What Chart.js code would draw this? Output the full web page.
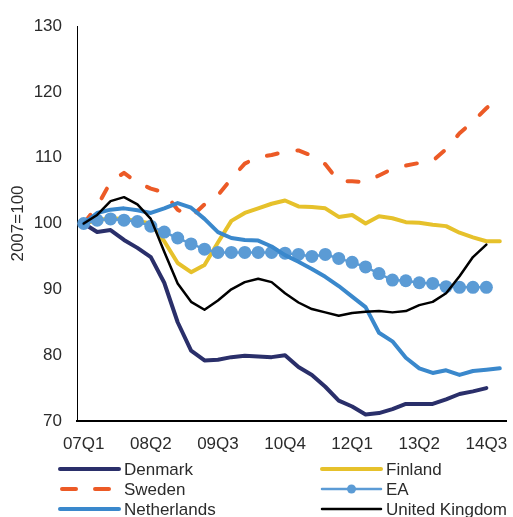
<!DOCTYPE html>
<html>
<head>
<meta charset="utf-8">
<script src="https://cdn.jsdelivr.net/npm/chart.js@4.4.1/dist/chart.umd.min.js"></script>
<style>
  html, body { margin: 0; padding: 0; background: #ffffff; }
  #wrap { width: 513px; height: 517px; position: relative; }
</style>
</head>
<body>
<div id="wrap"><canvas id="c" width="513" height="517"></canvas></div>
<script>
const quarters = ['07Q1','07Q2','07Q3','07Q4','08Q1','08Q2','08Q3','08Q4',
  '09Q1','09Q2','09Q3','09Q4','10Q1','10Q2','10Q3','10Q4',
  '11Q1','11Q2','11Q3','11Q4','12Q1','12Q2','12Q3','12Q4',
  '13Q1','13Q2','13Q3','13Q4','14Q1','14Q2','14Q3','14Q4'];
const shownTicks = ['07Q1','08Q2','09Q3','10Q4','12Q1','13Q2','14Q3'];
const yTicks = [70, 80, 90, 100, 110, 120, 130];

const denmark = [100, 98.7, 99.0, 97.5, 96.3, 94.9, 91.0, 85.0, 80.7, 79.2, 79.3, 79.7, 79.9, 79.8, 79.7, 80.0,
  78.2, 77.0, 75.2, 73.1, 72.2, 71.0, 71.2, 71.8, 72.6, 72.6, 72.6, 73.3, 74.1, 74.5, 75.0];
const finland = [100, 100.5, 100.8, 100.7, 100.4, 100.0, 97.3, 94.0, 92.6, 93.7, 97.1, 100.4, 101.6, 102.3, 103.0, 103.5,
  102.6, 102.5, 102.3, 101.0, 101.3, 100.0, 101.1, 100.8, 100.2, 100.1, 99.8, 99.6, 98.6, 97.9, 97.3, 97.3];
const sweden = [100, 102.6, 106.3, 107.7, 106.2, 105.3, 104.7, 102.1, 101.0, 102.9, 104.3, 106.8, 109.1, 110.1, 110.4, 110.9,
  111.1, 110.3, 109.0, 106.4, 106.4, 106.3, 107.3, 108.3, 108.8, 109.2, 109.5, 111.3, 113.7, 115.5, 117.5, 119.4];
const ea = [100, 100.5, 100.7, 100.5, 100.3, 99.6, 98.7, 97.8, 96.9, 96.1, 95.6, 95.6, 95.6, 95.6, 95.6, 95.5,
  95.3, 95.0, 95.3, 94.7, 94.1, 93.4, 92.4, 91.4, 91.3, 91.0, 90.9, 90.4, 90.3, 90.3, 90.3];
const netherlands = [100, 101.6, 102.1, 102.3, 102.0, 101.6, 102.3, 103.1, 102.4, 100.7, 98.7, 97.8, 97.5, 97.4, 96.5, 95.2,
  94.2, 93.1, 91.9, 90.5, 88.9, 87.3, 83.4, 82.1, 79.6, 78.0, 77.3, 77.7, 77.0, 77.6, 77.8, 78.0];
const uk = [100, 101.3, 103.4, 104.0, 102.9, 100.7, 95.7, 90.9, 88.1, 86.9, 88.3, 90.0, 91.1, 91.6, 91.1, 89.4,
  88.0, 87.0, 86.5, 86.0, 86.4, 86.6, 86.7, 86.5, 86.7, 87.6, 88.1, 89.4, 92.0, 94.9, 96.8];

const FONT = "'Liberation Sans', Arial, sans-serif";
const TEXT = '#2b2b2b';

function line(label, data, color, width, order, extra) {
  return Object.assign({
    label, data, borderColor: color, backgroundColor: color,
    borderWidth: width, pointRadius: 0, pointHoverRadius: 0,
    tension: 0, fill: false, order,
    borderCapStyle: 'round', borderJoinStyle: 'round'
  }, extra || {});
}

const datasets = [
  line('Denmark', denmark, '#2a2f6a', 4, 6),
  line('Finland', finland, '#e6c12b', 4, 5),
  line('Sweden', sweden, '#ec5a26', 4, 4, { borderDash: [11, 20], legendDash: [14, 19] }),
  line('EA', ea, '#5b9bd5', 2.5, 3, { pointRadius: 6.5, pointBorderWidth: 0, pointBackgroundColor: '#5b9bd5', legendPoint: 4.5 }),
  line('Netherlands', netherlands, '#3a88cc', 4, 2),
  line('United Kingdom', uk, '#000000', 2.5, 1)
];

const legendPlugin = {
  id: 'gridLegend',
  afterDraw(chart) {
    const ctx = chart.ctx;
    const colLine = [60, 322], colText = [124, 386], rowY = [469, 489, 509];
    const lineLen = 59;
    chart.data.datasets.forEach((ds, k) => {
      const col = k % 2, row = Math.floor(k / 2);
      const x0 = colLine[col], y = rowY[row];
      ctx.save();
      ctx.strokeStyle = ds.borderColor;
      ctx.lineWidth = ds.borderWidth;
      ctx.lineCap = 'round';
      ctx.setLineDash(ds.legendDash || []);
      ctx.beginPath();
      if (ds.legendDash) { ctx.moveTo(x0 + 2, y); ctx.lineTo(x0 + lineLen - 2, y); }
      else { ctx.moveTo(x0, y); ctx.lineTo(x0 + lineLen, y); }
      ctx.stroke();
      ctx.setLineDash([]);
      if (ds.legendPoint) {
        ctx.fillStyle = ds.borderColor;
        ctx.beginPath();
        ctx.arc(x0 + lineLen / 2, y, ds.legendPoint, 0, Math.PI * 2);
        ctx.fill();
      }
      ctx.fillStyle = TEXT;
      ctx.font = '17px ' + FONT;
      ctx.textBaseline = 'middle';
      ctx.textAlign = 'left';
      ctx.fillText(ds.label, colText[col], y + 1);
      ctx.restore();
    });
  }
};

new Chart(document.getElementById('c'), {
  type: 'line',
  data: { labels: quarters, datasets },
  plugins: [legendPlugin],
  options: {
    responsive: false,
    animation: false,
    devicePixelRatio: 1,
    layout: { padding: { top: 26, right: 4, left: 0, bottom: 0 } },
    plugins: { legend: { display: false }, tooltip: { enabled: false } },
    scales: {
      x: {
        type: 'category',
        offset: true,
        grid: { display: true, color: 'rgba(0,0,0,0)', drawTicks: false },
        border: { display: true, color: '#000000', width: 2 },
        ticks: {
          autoSkip: false, maxRotation: 0, minRotation: 0, padding: 13,
          color: TEXT, font: { family: FONT, size: 17 },
          callback: function (v, i) { const l = quarters[i]; return shownTicks.includes(l) ? l : ''; }
        },
        afterFit: (s) => { s.height = 96; }
      },
      y: {
        min: yTicks[0], max: yTicks[yTicks.length - 1],
        afterBuildTicks: (s) => { s.ticks = yTicks.map(v => ({ value: v })); },
        grid: { display: true, color: 'rgba(0,0,0,0)', drawTicks: false },
        border: { display: true, color: '#000000', width: 1 },
        ticks: { padding: 15, color: TEXT, font: { family: FONT, size: 17 } },
        title: { display: true, text: '2007=100', color: TEXT, font: { family: FONT, size: 17 }, padding: { top: 8, bottom: 0 } },
        afterFit: (s) => { s.width = 77; }
      }
    }
  }
});
</script>
</body>
</html>
